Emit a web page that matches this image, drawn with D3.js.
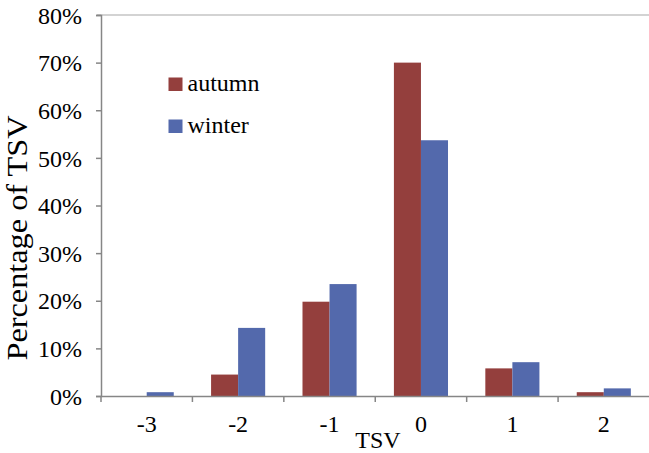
<!DOCTYPE html>
<html>
<head>
<meta charset="utf-8">
<script src="https://cdn.jsdelivr.net/npm/d3@7"></script>
<style>
  html, body { margin: 0; padding: 0; background: #fff; }
  svg { display: block; }
  text { font-family: "Liberation Serif", "Times New Roman", serif; fill: #000; }
</style>
</head>
<body>
<svg id="chart" width="649" height="453"></svg>
<script>
// ---- data ----
const categories = ["-3", "-2", "-1", "0", "1", "2"];
const seriesNames = ["autumn", "winter"];
const autumnValues = [0, 4.5, 19.8, 70.0, 5.8, 0.8];
const winterValues = [0.8, 14.3, 23.5, 53.7, 7.1, 1.6];
const yTickValues = [0, 10, 20, 30, 40, 50, 60, 70, 80];
const seriesColors = ["#943F3D", "#5369AC"];

(function () {
const svg = d3.select("#chart");
const mLeft = 101, mRight = 649.5, mTop = 15, mBottom = 396;

const x0 = d3.scaleBand().domain(categories).range([mLeft, mRight]).padding(0);
const x1 = d3.scaleBand().domain(seriesNames).range([0, x0.bandwidth()]).paddingInner(0).paddingOuter(0.69);
const y = d3.scaleLinear().domain([0, 80]).range([mBottom, mTop]);
const color = d3.scaleOrdinal().domain(seriesNames).range(seriesColors);

const rows = categories.map((c, i) => ({cat: c, autumn: autumnValues[i], winter: winterValues[i]}));

// top border line
svg.append("line")
  .attr("x1", mLeft - 4).attr("x2", 649).attr("y1", y(80)).attr("y2", y(80))
  .attr("stroke", "#c4c4c4").attr("stroke-width", 1.5);

// bars
const groups = svg.append("g").selectAll("g").data(rows).join("g")
  .attr("transform", d => `translate(${x0(d.cat)},0)`);
groups.selectAll("rect")
  .data(d => seriesNames.map(k => ({key: k, value: d[k]})))
  .join("rect")
  .attr("x", d => x1(d.key))
  .attr("width", x1.bandwidth())
  .attr("y", d => y(d.value))
  .attr("height", d => y(0) - y(d.value))
  .attr("fill", d => color(d.key));

// y axis
const yAxis = d3.axisLeft(y).tickValues(yTickValues).tickSize(5).tickPadding(14)
  .tickFormat(d => d + "%");
const gy = svg.append("g").attr("transform", `translate(${mLeft},0)`).call(yAxis);
gy.select(".domain").attr("stroke", "#868686").attr("stroke-width", 1.5);
gy.selectAll(".tick line").attr("stroke", "#868686").attr("stroke-width", 1.5);
gy.selectAll(".tick text").attr("font-size", 24).attr("font-family", "Liberation Serif").attr("dy", "0.34em");

// x axis
const xAxis = d3.axisBottom(x0).tickSize(0).tickPadding(26);
const gx = svg.append("g").attr("transform", `translate(0,${mBottom})`).call(xAxis);
gx.select(".domain").attr("stroke", "#868686").attr("stroke-width", 1.5);
gx.selectAll(".tick text").attr("font-size", 24).attr("font-family", "Liberation Serif").attr("dy", "0.4em");
// separator ticks between categories
gx.selectAll(".sep").data(categories).join("line").attr("class", "sep")
  .attr("x1", d => x0(d)).attr("x2", d => x0(d))
  .attr("y1", 0).attr("y2", 6)
  .attr("stroke", "#868686").attr("stroke-width", 1.5);

// axis titles
svg.append("text")
  .attr("x", 378).attr("y", 447.5)
  .attr("text-anchor", "middle").attr("font-size", 24)
  .text("TSV");

svg.append("text")
  .attr("transform", "translate(27,238) rotate(-90)")
  .attr("text-anchor", "middle").attr("font-size", 29)
  .attr("textLength", 245).attr("lengthAdjust", "spacingAndGlyphs")
  .text("Percentage of TSV");

// legend
const legend = svg.append("g");
seriesNames.forEach((name, i) => {
  const yy = 77.5 + i * 42;
  legend.append("rect").attr("x", 168.5).attr("y", yy).attr("width", 14).attr("height", 13.5)
    .attr("fill", color(name));
  legend.append("text").attr("x", 187.5).attr("y", yy + 13.3)
    .attr("font-size", 24).text(name);
});
})();
</script>
</body>
</html>
